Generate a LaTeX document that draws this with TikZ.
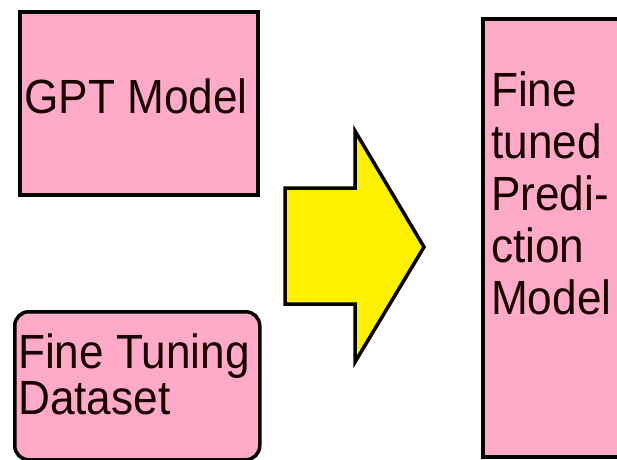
\documentclass[tikz,border=0pt]{standalone}
\usepackage{fontspec}
\setmainfont[FakeStretch=0.92]{Liberation Sans}
\definecolor{boxpink}{RGB}{255,170,200}
\definecolor{arrowyellow}{RGB}{255,240,0}
\begin{document}
\begin{tikzpicture}[x=1pt,y=-1pt,
  box/.style={draw=black, line width=3.5pt, fill=boxpink, inner sep=0pt, anchor=north west},
  label/.style={font=\fontsize{48}{46}\selectfont, inner sep=0pt, text=black!90!red}]
  \useasboundingbox (0,0) rectangle (617,459);
  \begin{scope}
    \clip (0,0) rectangle (617,459);
    % GPT model
    \node[box, minimum width=238pt, minimum height=183pt] (gpt) at (18,10) {};
    \node[label] (gpttext) at (136,96) {GPT Model};
    % fine tuning dataset
    \node[box, rounded corners=14pt, minimum width=245pt, minimum height=148pt] (data) at (13,310) {};
    \node[label, anchor=north west, align=left] (datatext) at (18,334) {Fine Tuning\\Dataset};
    % resulting model, running off the right edge
    \node[box, minimum width=160pt, minimum height=438pt] (tuned) at (481,17) {};
    \node[label, anchor=north west, align=left, font=\fontsize{48}{52}\selectfont] (tunedtext) at (491,72)
      {Fine\\tuned\\Predi-\\ction\\Model};
    % block arrow
    \draw[line width=3.5pt, fill=arrowyellow, line join=miter]
      (285,188) -- (355,188) -- (355,131) -- (424,247) -- (355,362) -- (355,304) -- (285,304) -- cycle;
  \end{scope}
\end{tikzpicture}
\end{document}
